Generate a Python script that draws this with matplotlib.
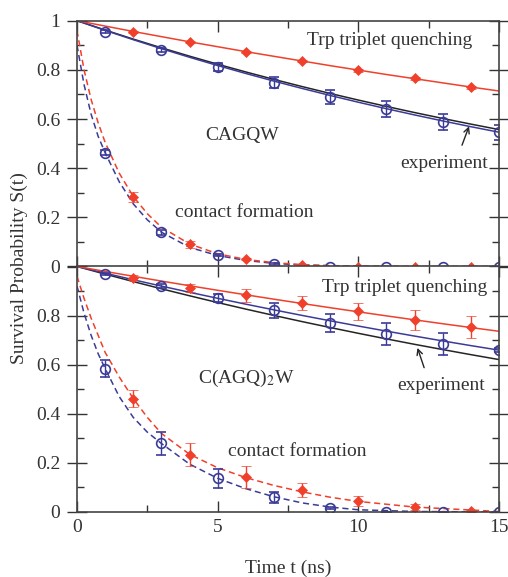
import matplotlib.pyplot as plt
import numpy as np
from matplotlib.ticker import MultipleLocator

plt.rcParams['font.family'] = ['Liberation Serif', 'DejaVu Serif']
plt.rcParams['mathtext.fontset'] = 'stix'

BLUE = '#3b3b98'
RED = '#f0402c'
BLACK = '#252525'

# fit curves
t_fit = np.arange(0, 16)
top_red_fit = [1, .978, .956, .935, .914, .894, .874, .855, .836, .817, .799, .781, .764, .747, .730, .714]
top_blue_fit = [1, .9605, .9226, .8861, .8511, .8175, .7852, .7542, .7244, .6958, .6683, .6419, .6166, .5922, .5688, .5464]
top_black_fit = [1, .9618, .9250, .8896, .8556, .8228, .7914, .7611, .7320, .7040, .6771, .6512, .6263, .6023, .5793, .5571]
bot_red_fit = [1, .9798, .9600, .9405, .9215, .9029, .8846, .8667, .8492, .8320, .8152, .7987, .7826, .7667, .7512, .7360]
bot_blue_fit = [1, .9726, .9459, .9200, .8948, .8703, .8464, .8232, .8006, .7787, .7573, .7366, .7164, .6967, .6776, .6591]
bot_black_fit = [1, .9687, .9384, .9090, .8806, .8530, .8263, .8005, .7754, .7512, .7277, .7049, .6828, .6615, .6408, .6207]

t_dash = [0, 0.25, 0.5, 0.75, 1, 1.5, 2, 2.5, 3, 4, 5, 6, 7, 8, 9, 10, 12, 15]
top_blue_dash = [0.90, 0.74, 0.62, 0.53, 0.463, 0.345, 0.255, 0.19, 0.14, 0.078, 0.045, 0.025, 0.013, 0.006, 0.003, 0.001, 0, 0]
top_red_dash = [0.96, 0.80, 0.68, 0.585, 0.505, 0.38, 0.285, 0.215, 0.16, 0.092, 0.052, 0.029, 0.016, 0.008, 0.004, 0.002, 0, 0]
bot_blue_dash = [0.92, 0.81, 0.72, 0.645, 0.584, 0.47, 0.385, 0.325, 0.279, 0.195, 0.137, 0.095, 0.062, 0.037, 0.02, 0.009, 0.002, 0]
bot_red_dash = [0.96, 0.87, 0.79, 0.72, 0.650, 0.55, 0.462, 0.385, 0.32, 0.235, 0.18, 0.14, 0.108, 0.082, 0.06, 0.043, 0.02, 0.002]

# data points
t_odd = [1, 3, 5, 7, 9, 11, 13, 15]
t_even = [2, 4, 6, 8, 10, 12, 14]

top_blue_trip = [0.955, 0.881, 0.811, 0.748, 0.691, 0.641, 0.587, 0.546]
top_blue_trip_err = [0.005, 0.008, 0.015, 0.022, 0.028, 0.032, 0.033, 0.03]
top_red_trip = [0.955, 0.913, 0.873, 0.836, 0.798, 0.766, 0.729]
top_red_trip_err = [0.004, 0.004, 0.005, 0.005, 0.006, 0.006, 0.006]
top_blue_cf = [0.463, 0.14, 0.046, 0.01, 0, 0, 0, 0]
top_blue_cf_err = [0.01, 0.01, 0.005, 0.004, 0, 0, 0, 0]
top_red_cf = [0.282, 0.091, 0.031, 0.005, 0, 0, 0]
top_red_cf_err = [0.02, 0.015, 0.005, 0.003, 0, 0, 0]

bot_blue_trip = [0.970, 0.919, 0.871, 0.821, 0.770, 0.724, 0.686, 0.659]
bot_blue_trip_err = [0.005, 0.008, 0.015, 0.03, 0.035, 0.045, 0.045, 0.008]
bot_red_trip = [0.954, 0.912, 0.882, 0.851, 0.818, 0.783, 0.753]
bot_red_trip_err = [0.01, 0.018, 0.025, 0.03, 0.035, 0.04, 0.045]
bot_blue_cf = [0.584, 0.279, 0.137, 0.06, 0.015, 0, 0, 0]
bot_blue_cf_err = [0.035, 0.048, 0.04, 0.022, 0.004, 0, 0, 0]
bot_red_cf = [0.462, 0.234, 0.141, 0.089, 0.045, 0.019, 0.005]
bot_red_cf_err = [0.035, 0.045, 0.045, 0.03, 0.02, 0.012, 0.005]

fig = plt.figure(figsize=(5.08, 5.77), dpi=100)
ax1 = fig.add_axes([0.1516, 0.5380, 0.8307, 0.4262])
ax2 = fig.add_axes([0.1516, 0.1127, 0.8307, 0.4255])

eb = dict(capsize=3.5, elinewidth=1.0, capthick=1.0, linestyle='none')


def panel(ax, red_fit, blue_fit, black_fit, blue_dash, red_dash,
          bt, bt_e, rt, rt_e, bc, bc_e, rc, rc_e):
    ax.plot(t_fit, black_fit, color=BLACK, lw=1.1)
    ax.plot(t_fit, blue_fit, color=BLUE, lw=1.1)
    ax.plot(t_fit, red_fit, color=RED, lw=1.1)
    ax.plot(t_dash, blue_dash, color=BLUE, lw=1.1, ls=(0, (4, 2.5)))
    ax.plot(t_dash, red_dash, color=RED, lw=1.1, ls=(0, (4, 2.5)))
    ax.errorbar(t_odd, bt, yerr=bt_e, color=BLUE, marker='o', ms=7,
                mfc='none', mew=1.2, **eb)
    ax.errorbar(t_odd, bc, yerr=bc_e, color=BLUE, marker='o', ms=7,
                mfc='none', mew=1.2, **eb)
    ax.errorbar(t_even, rt, yerr=rt_e, color=RED, marker='D', ms=5,
                mew=0.5, **eb)
    ax.errorbar(t_even, rc, yerr=rc_e, color=RED, marker='D', ms=5,
                mew=0.5, **eb)
    ax.set_xlim(0, 15)
    ax.set_ylim(0, 1)
    ax.xaxis.set_major_locator(MultipleLocator(5))
    ax.xaxis.set_minor_locator(MultipleLocator(2.5))
    ax.yaxis.set_major_locator(MultipleLocator(0.2))
    ax.yaxis.set_minor_locator(MultipleLocator(0.1))
    ax.tick_params(which='both', direction='in', top=True, right=True,
                   labelsize=14, colors='#333333', width=1.0)
    ax.tick_params(which='major', length=8, pad=5)
    ax.tick_params(which='minor', length=5)
    ax.tick_params(axis='y', which='major', direction='inout', length=14)
    for s in ax.spines.values():
        s.set_color('#444444')
        s.set_linewidth(1.2)


panel(ax1, top_red_fit, top_blue_fit, top_black_fit, top_blue_dash, top_red_dash,
      top_blue_trip, top_blue_trip_err, top_red_trip, top_red_trip_err,
      top_blue_cf, top_blue_cf_err, top_red_cf, top_red_cf_err)
panel(ax2, bot_red_fit, bot_blue_fit, bot_black_fit, bot_blue_dash, bot_red_dash,
      bot_blue_trip, bot_blue_trip_err, bot_red_trip, bot_red_trip_err,
      bot_blue_cf, bot_blue_cf_err, bot_red_cf, bot_red_cf_err)

ax1.set_yticks([0, 0.2, 0.4, 0.6, 0.8, 1.0])
ax1.set_yticklabels(['0', '0.2', '0.4', '0.6', '0.8', '1'])
ax1.tick_params(axis='x', labelbottom=False)
ax2.set_yticks([0, 0.2, 0.4, 0.6, 0.8, 1.0])
ax2.set_yticklabels(['0', '0.2', '0.4', '0.6', '0.8', ''])
ax2.set_xticks([0, 5, 10, 15])
ax2.set_xticklabels(['0', '5', '10', '15'])

tk = dict(fontsize=14, color='#333333', ha='center', va='center')
ax1.text(11.1, 0.921, 'Trp triplet quenching', **tk)
ax1.text(5.87, 0.535, 'CAGQW', **tk)
ax1.text(5.94, 0.22, 'contact formation', **tk)
ax1.text(13.05, 0.420, 'experiment', **tk)
ax1.annotate('', xy=(13.97, 0.581), xytext=(13.65, 0.483),
             arrowprops=dict(arrowstyle='->', color=BLACK, lw=1.0))

ax2.text(11.63, 0.916, 'Trp triplet quenching', **tk)
ax2.text(6.03, 0.543, r'C(AGQ)$_2$W', **tk)
ax2.text(7.83, 0.245, 'contact formation', **tk)
ax2.text(12.94, 0.516, 'experiment', **tk)
ax2.annotate('', xy=(12.07, 0.679), xytext=(12.37, 0.577),
             arrowprops=dict(arrowstyle='->', color=BLACK, lw=1.0))

fig.text(0.038, 0.536, 'Survival Probability S(t)', rotation=90, fontsize=14,
         color='#333333', ha='center', va='center')
fig.text(0.567, 0.015, 'Time t (ns)', fontsize=14, color='#333333',
         ha='center', va='center')

fig.savefig('out.png', dpi=100)
